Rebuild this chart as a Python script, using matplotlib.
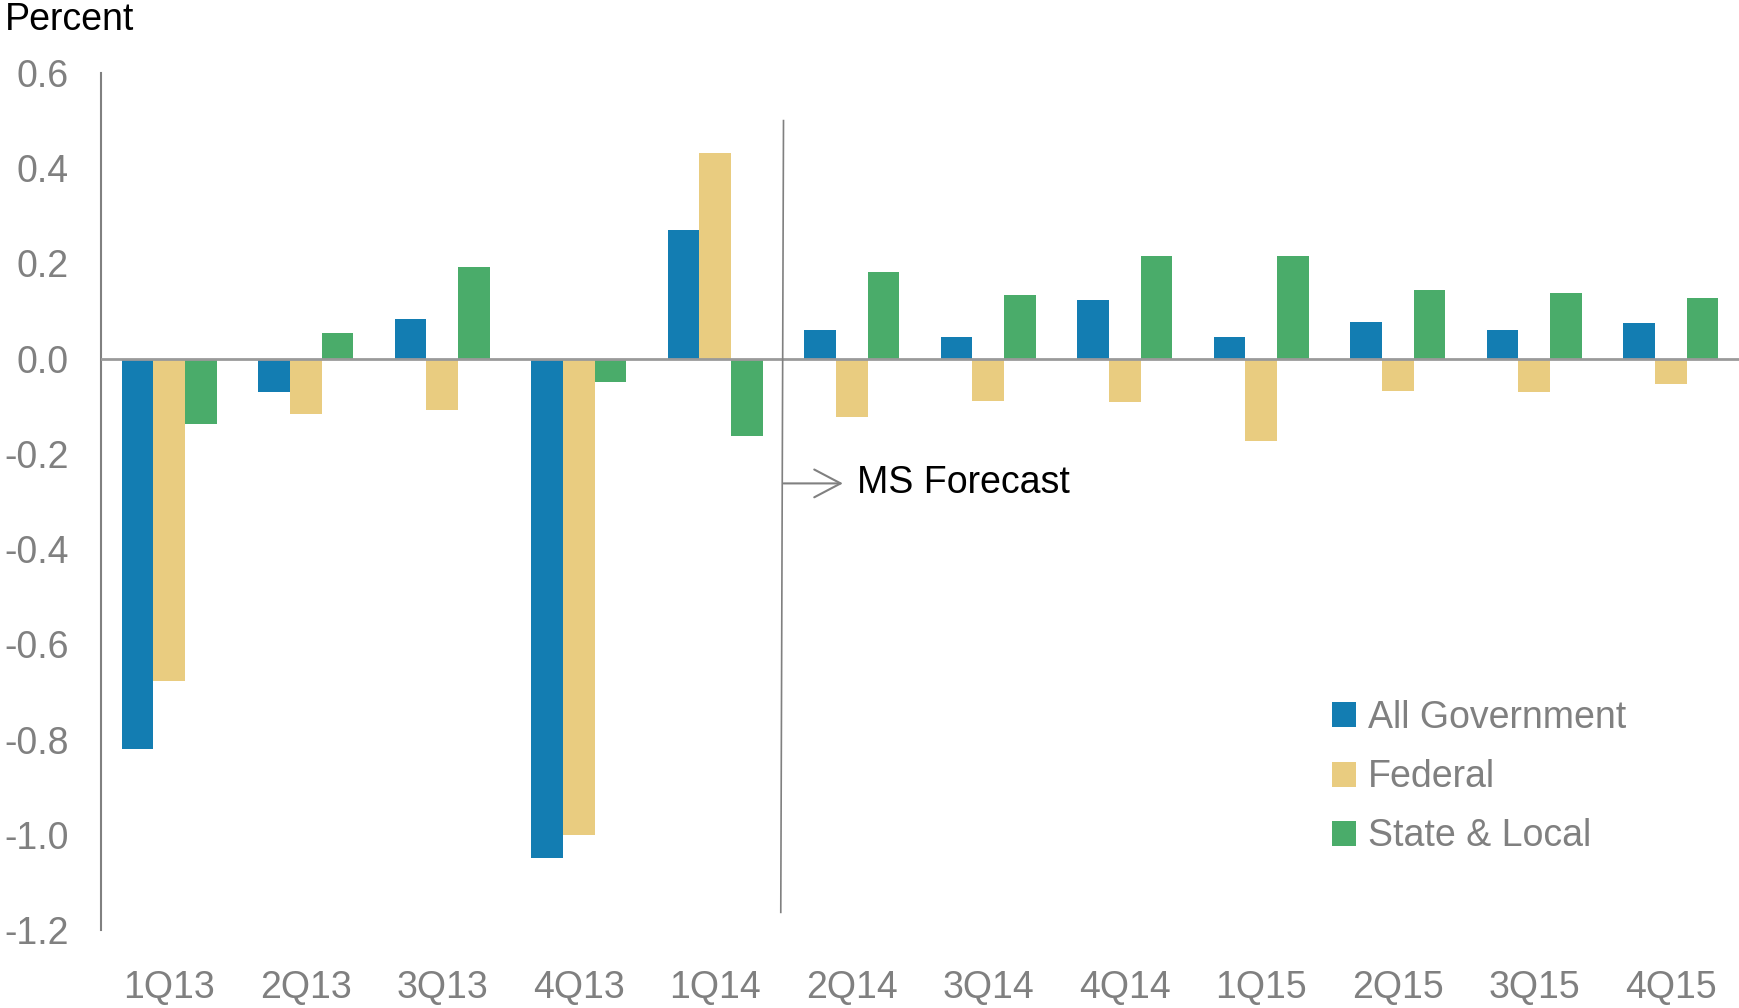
import matplotlib
matplotlib.use("Agg")
import matplotlib.pyplot as plt
from matplotlib.patches import Patch
import numpy as np

quarters = ["1Q13", "2Q13", "3Q13", "4Q13", "1Q14", "2Q14", "3Q14", "4Q14",
            "1Q15", "2Q15", "3Q15", "4Q15"]
all_gov = [-0.82, -0.07, 0.084, -1.048, 0.27, 0.061, 0.045, 0.124, 0.045, 0.078, 0.061, 0.074]
federal = [-0.678, -0.117, -0.107, -1.0, 0.431, -0.122, -0.088, -0.092, -0.172, -0.067, -0.071, -0.053]
state_local = [-0.138, 0.054, 0.193, -0.049, -0.163, 0.183, 0.133, 0.216, 0.216, 0.145, 0.137, 0.128]
series_names = ["All Government", "Federal", "State & Local"]
yticks = [0.6, 0.4, 0.2, 0.0, -0.2, -0.4, -0.6, -0.8, -1.0, -1.2]

colors = ["#137DB2", "#E9CC80", "#4AAC6A"]
grey = "#808080"

plt.rcParams['font.family'] = ['Liberation Sans', 'DejaVu Sans']
FS = 27

fig = plt.figure(figsize=(17.4, 10.08), dpi=100)
ax = fig.add_axes([101/1740, (1008-930)/1008, (1739-101)/1740, (930-73)/1008])

x = np.arange(len(quarters))
w = 0.232
for i, (vals, c) in enumerate(zip([all_gov, federal, state_local], colors)):
    ax.bar(x + (i - 1) * w, vals, width=w, color=c, linewidth=0, zorder=2)

ax.set_xlim(-0.5, len(quarters) - 0.5)
ax.set_ylim(-1.2, 0.6)
ax.set_yticks(yticks)
ax.set_yticklabels([f"{v:.1f}" for v in yticks])
ax.set_xticks(x)
ax.set_xticklabels(quarters)
ax.tick_params(axis='both', length=0, labelsize=FS, colors=grey)
ax.tick_params(axis='x', pad=29)
ax.tick_params(axis='y', pad=23)

for s in ["top", "right", "bottom"]:
    ax.spines[s].set_visible(False)
ax.spines["left"].set_color(grey)
ax.spines["left"].set_linewidth(1.5)
ax.axhline(0, color="#9a9a9a", linewidth=2, zorder=3)

# forecast divider
ax.plot([4.5, 4.48], [0.5, -1.163], color=grey, linewidth=1.2, zorder=3)
ax.annotate("", xy=(4.935, -0.262), xytext=(4.5, -0.262),
            arrowprops=dict(arrowstyle="->,head_length=1.9,head_width=1.0",
                            color=grey, linewidth=1.5, shrinkA=0, shrinkB=0))
ax.text(5.04, -0.262, "MS Forecast", fontsize=FS, color="black",
        va="center", ha="left")

fig.text(5/1740, 1 - 20/1008, "Percent", fontsize=FS, color="black",
         va="center", ha="left")

handles = [Patch(facecolor=c, edgecolor="none") for c in colors]
leg = ax.legend(handles, series_names, loc="upper left",
                bbox_to_anchor=(1332/1740, (1008-700)/1008),
                bbox_transform=fig.transFigure, frameon=False,
                fontsize=FS, handlelength=0.65, handleheight=0.65,
                handletextpad=0.3, labelspacing=0.62, borderpad=0,
                borderaxespad=0)
for t in leg.get_texts():
    t.set_color(grey)

fig.savefig("out.png", dpi=100)
